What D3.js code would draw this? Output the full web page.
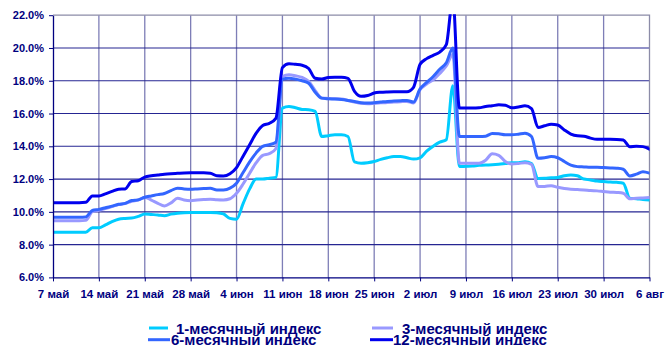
<!DOCTYPE html>
<html>
<head>
<meta charset="utf-8">
<script src="https://cdn.jsdelivr.net/npm/d3@7"></script>
<style>
  html, body { margin: 0; padding: 0; background: #fff; }
  svg { display: block; }
  text { font-family: "Liberation Sans", Arial, sans-serif; font-weight: bold; fill: #000080; }
</style>
</head>
<body>
<svg id="chart" width="665" height="345"></svg>
<script>
// Calendar: one value per day, 7 May – 6 Aug
const startDate = new Date(2008, 4, 7);
const dayCount = 92;
const dates = d3.timeDay.range(startDate, d3.timeDay.offset(startDate, dayCount));

// Weekly axis labels
const tickLabels = ["7 май", "14 май", "21 май", "28 май", "4 июн", "11 июн", "18 июн",
                    "25 июн", "2 июл", "9 июл", "16 июл", "23 июл", "30 июл", "6 авг"];
const yTicks = [6, 8, 10, 12, 14, 16, 18, 20, 22];

// Index values, % (one row per week)
const oneMonth = [
  8.75, 8.75, 8.75, 8.75, 8.75, 8.75, 9.03,
  9.03, 9.2, 9.4, 9.55, 9.6, 9.62, 9.72,
  9.87, 9.84, 9.81, 9.76, 9.86, 9.92, 9.95,
  9.96, 9.96, 9.96, 9.96, 9.95, 9.87, 9.6,
  9.55, 10.5, 11.4, 12.0, 12.0, 12.05, 12.1,
  16.33, 16.43, 16.35, 16.25, 16.23, 16.13, 14.6,
  14.65, 14.7, 14.7, 14.6, 13.05, 12.97, 13.0,
  13.07, 13.2, 13.3, 13.37, 13.37, 13.3, 13.22,
  13.3, 13.7, 14.0, 14.25, 14.4, 17.7, 12.76,
  12.78, 12.8, 12.84, 12.86, 12.87, 12.9, 12.95,
  13.0, 13.0, 13.05, 12.95, 12.04, 12.05, 12.08,
  12.1, 12.2, 12.25, 12.2, 12.0, 11.95, 11.88,
  11.85, 11.82, 11.8, 11.75, 10.83, 10.8, 10.75,
  10.73
];
const threeMonth = [
  9.46, 9.46, 9.46, 9.46, 9.46, 9.48, 10.01,
  10.1, 10.2, 10.32, 10.44, 10.5, 10.65, 10.72,
  10.89, 10.72, 10.52, 10.36, 10.55, 10.83, 10.72,
  10.68, 10.72, 10.75, 10.77, 10.74, 10.73, 10.8,
  11.13, 11.7, 12.36, 13.0, 13.45, 13.55, 13.85,
  18.26, 18.37, 18.3, 18.2, 17.96, 17.4, 16.94,
  16.92, 16.9, 16.88, 16.8, 16.7, 16.62, 16.6,
  16.62, 16.65, 16.68, 16.7, 16.72, 16.74, 16.64,
  17.45, 17.8, 18.06, 18.45, 18.9, 19.6, 12.97,
  12.97, 12.97, 12.97, 13.15, 13.54, 13.45, 13.07,
  12.92, 12.95, 13.0, 12.9, 11.54, 11.55, 11.6,
  11.5, 11.42, 11.38, 11.36, 11.34, 11.3, 11.28,
  11.24, 11.2, 11.18, 11.14, 10.8, 10.83, 10.85,
  10.87
];
const sixMonth = [
  9.67, 9.67, 9.67, 9.67, 9.67, 9.69, 10.08,
  10.15, 10.25, 10.35, 10.46, 10.52, 10.69, 10.73,
  10.89, 10.97, 11.05, 11.12, 11.3, 11.44, 11.4,
  11.38, 11.4, 11.42, 11.44, 11.33, 11.34, 11.45,
  11.75, 12.4, 13.05, 13.6, 14.0, 14.1, 14.25,
  18.1, 18.16, 18.1, 18.0, 17.85, 17.3, 16.94,
  16.9, 16.88, 16.85, 16.8, 16.74, 16.66, 16.64,
  16.66, 16.7, 16.74, 16.76, 16.78, 16.8, 16.7,
  17.5, 17.9, 18.26, 18.7, 19.1, 20.0, 14.6,
  14.6, 14.6, 14.6, 14.62, 14.78, 14.76, 14.7,
  14.7, 14.74, 14.8, 14.6, 13.27, 13.3, 13.37,
  13.3, 13.07, 12.85, 12.76, 12.74, 12.72, 12.72,
  12.7, 12.68, 12.66, 12.6, 12.19, 12.3, 12.45,
  12.36
];
const twelveMonth = [
  10.56, 10.56, 10.56, 10.56, 10.56, 10.58, 10.97,
  10.97, 11.1, 11.25, 11.38, 11.4, 11.85, 11.9,
  12.12, 12.2, 12.25, 12.3, 12.33, 12.35, 12.37,
  12.38, 12.38, 12.38, 12.36, 12.2, 12.19, 12.33,
  12.7, 13.4, 14.1, 14.8, 15.27, 15.4, 15.7,
  18.8, 19.04, 19.0, 18.95, 18.75, 18.15, 18.1,
  18.2, 18.22, 18.22, 18.15, 17.35, 17.05, 17.1,
  17.25, 17.3, 17.32, 17.33, 17.33, 17.33, 17.6,
  19.0, 19.35, 19.55, 19.75, 20.2, 23.0, 16.33,
  16.33, 16.33, 16.35, 16.43, 16.47, 16.53, 16.5,
  16.35, 16.4, 16.47, 16.3, 15.15, 15.25, 15.35,
  15.3, 15.0, 14.75, 14.64, 14.62, 14.5, 14.43,
  14.43, 14.43, 14.42, 14.38, 13.98, 14.0, 13.98,
  13.82
];

const seriesNames = ["1-месячный индекс", "3-месячный индекс", "6-месячный индекс", "12-месячный индекс"];
const seriesValues = [oneMonth, threeMonth, sixMonth, twelveMonth];
const seriesColors = ["#00CCFF", "#9999FF", "#3366FF", "#0000EE"];

const svg = d3.select("#chart");
const plot = { left: 53, right: 649.5, top: 15.2, bottom: 277.4 };

const x = d3.scaleTime().domain([dates[0], dates[dates.length - 1]]).range([plot.left, plot.right]);
const y = d3.scaleLinear().domain([6, 22]).range([plot.bottom, plot.top]);

const weekDates = d3.range(0, dayCount, 7).map(i => dates[i]);

// Gridlines
const grid = svg.append("g");
grid.selectAll("line.h").data(yTicks.slice(1, -1)).join("line")
  .attr("x1", plot.left).attr("x2", plot.right)
  .attr("y1", d => y(d)).attr("y2", d => y(d))
  .attr("stroke", "#000080").attr("stroke-width", 1.1).attr("opacity", 0.85);
grid.selectAll("line.v").data(weekDates.slice(1, -1)).join("line")
  .attr("x1", d => x(d)).attr("x2", d => x(d))
  .attr("y1", plot.top).attr("y2", plot.bottom)
  .attr("stroke", "#2a2a88").attr("stroke-width", 1.3).attr("opacity", 0.6);

// Plot frame (top and right edges)
grid.append("path")
  .attr("d", `M${plot.left},${y(22)}H${plot.right}V${plot.bottom}`)
  .attr("fill", "none").attr("stroke", "#8c8ca8").attr("stroke-width", 1.3);

// Series lines
svg.append("clipPath").attr("id", "plotClip").append("rect")
  .attr("x", plot.left).attr("y", plot.top - 1)
  .attr("width", plot.right - plot.left).attr("height", plot.bottom - plot.top + 1);

const line = d3.line()
  .x((d, i) => x(dates[i]))
  .y(d => y(d))
  .curve(d3.curveMonotoneX);

svg.append("g").attr("clip-path", "url(#plotClip)")
  .selectAll("path").data(seriesValues).join("path")
  .attr("d", line)
  .attr("fill", "none")
  .attr("stroke", (d, i) => seriesColors[i])
  .attr("stroke-width", 3)
  .attr("stroke-linejoin", "round")
  .attr("stroke-linecap", "round");

// Axes
const yAxis = svg.append("g").attr("transform", `translate(${plot.left},0)`)
  .call(d3.axisLeft(y).tickValues(yTicks).tickSize(4).tickSizeOuter(0).tickPadding(5)
    .tickFormat(d => d.toFixed(1) + "%"));
const xAxis = svg.append("g").attr("transform", `translate(0,${plot.bottom})`)
  .call(d3.axisBottom(x).tickValues(weekDates).tickSize(4).tickSizeOuter(0).tickPadding(8)
    .tickFormat((d, i) => tickLabels[i]));

[yAxis, xAxis].forEach(a => {
  a.select(".domain").attr("stroke", "#000080").attr("stroke-width", 1.3);
  a.selectAll(".tick line").attr("stroke", "#000080");
  a.selectAll("text").attr("fill", "#000080")
    .style("font-family", "'Liberation Sans', Arial, sans-serif").style("font-weight", "bold");
});
yAxis.selectAll("text").style("font-size", "11px");
xAxis.selectAll("text").style("font-size", "11.5px");

// Legend (two rows, two columns)
const legendItems = [
  { i: 0, x1: 149, x2: 168, ly: 328, tx: 176, ty: 333.5 },
  { i: 1, x1: 372, x2: 393, ly: 328, tx: 402, ty: 333.5 },
  { i: 2, x1: 148, x2: 170, ly: 339.7, tx: 171, ty: 345 },
  { i: 3, x1: 370, x2: 393, ly: 339.7, tx: 393, ty: 345 }
];
const legend = svg.append("g");
legend.selectAll("line").data(legendItems).join("line")
  .attr("x1", d => d.x1).attr("x2", d => d.x2)
  .attr("y1", d => d.ly).attr("y2", d => d.ly)
  .attr("stroke", d => seriesColors[d.i]).attr("stroke-width", 3);
legend.selectAll("text").data(legendItems).join("text")
  .attr("x", d => d.tx).attr("y", d => d.ty)
  .style("font-size", "15px")
  .text(d => seriesNames[d.i]);
</script>
</body>
</html>
